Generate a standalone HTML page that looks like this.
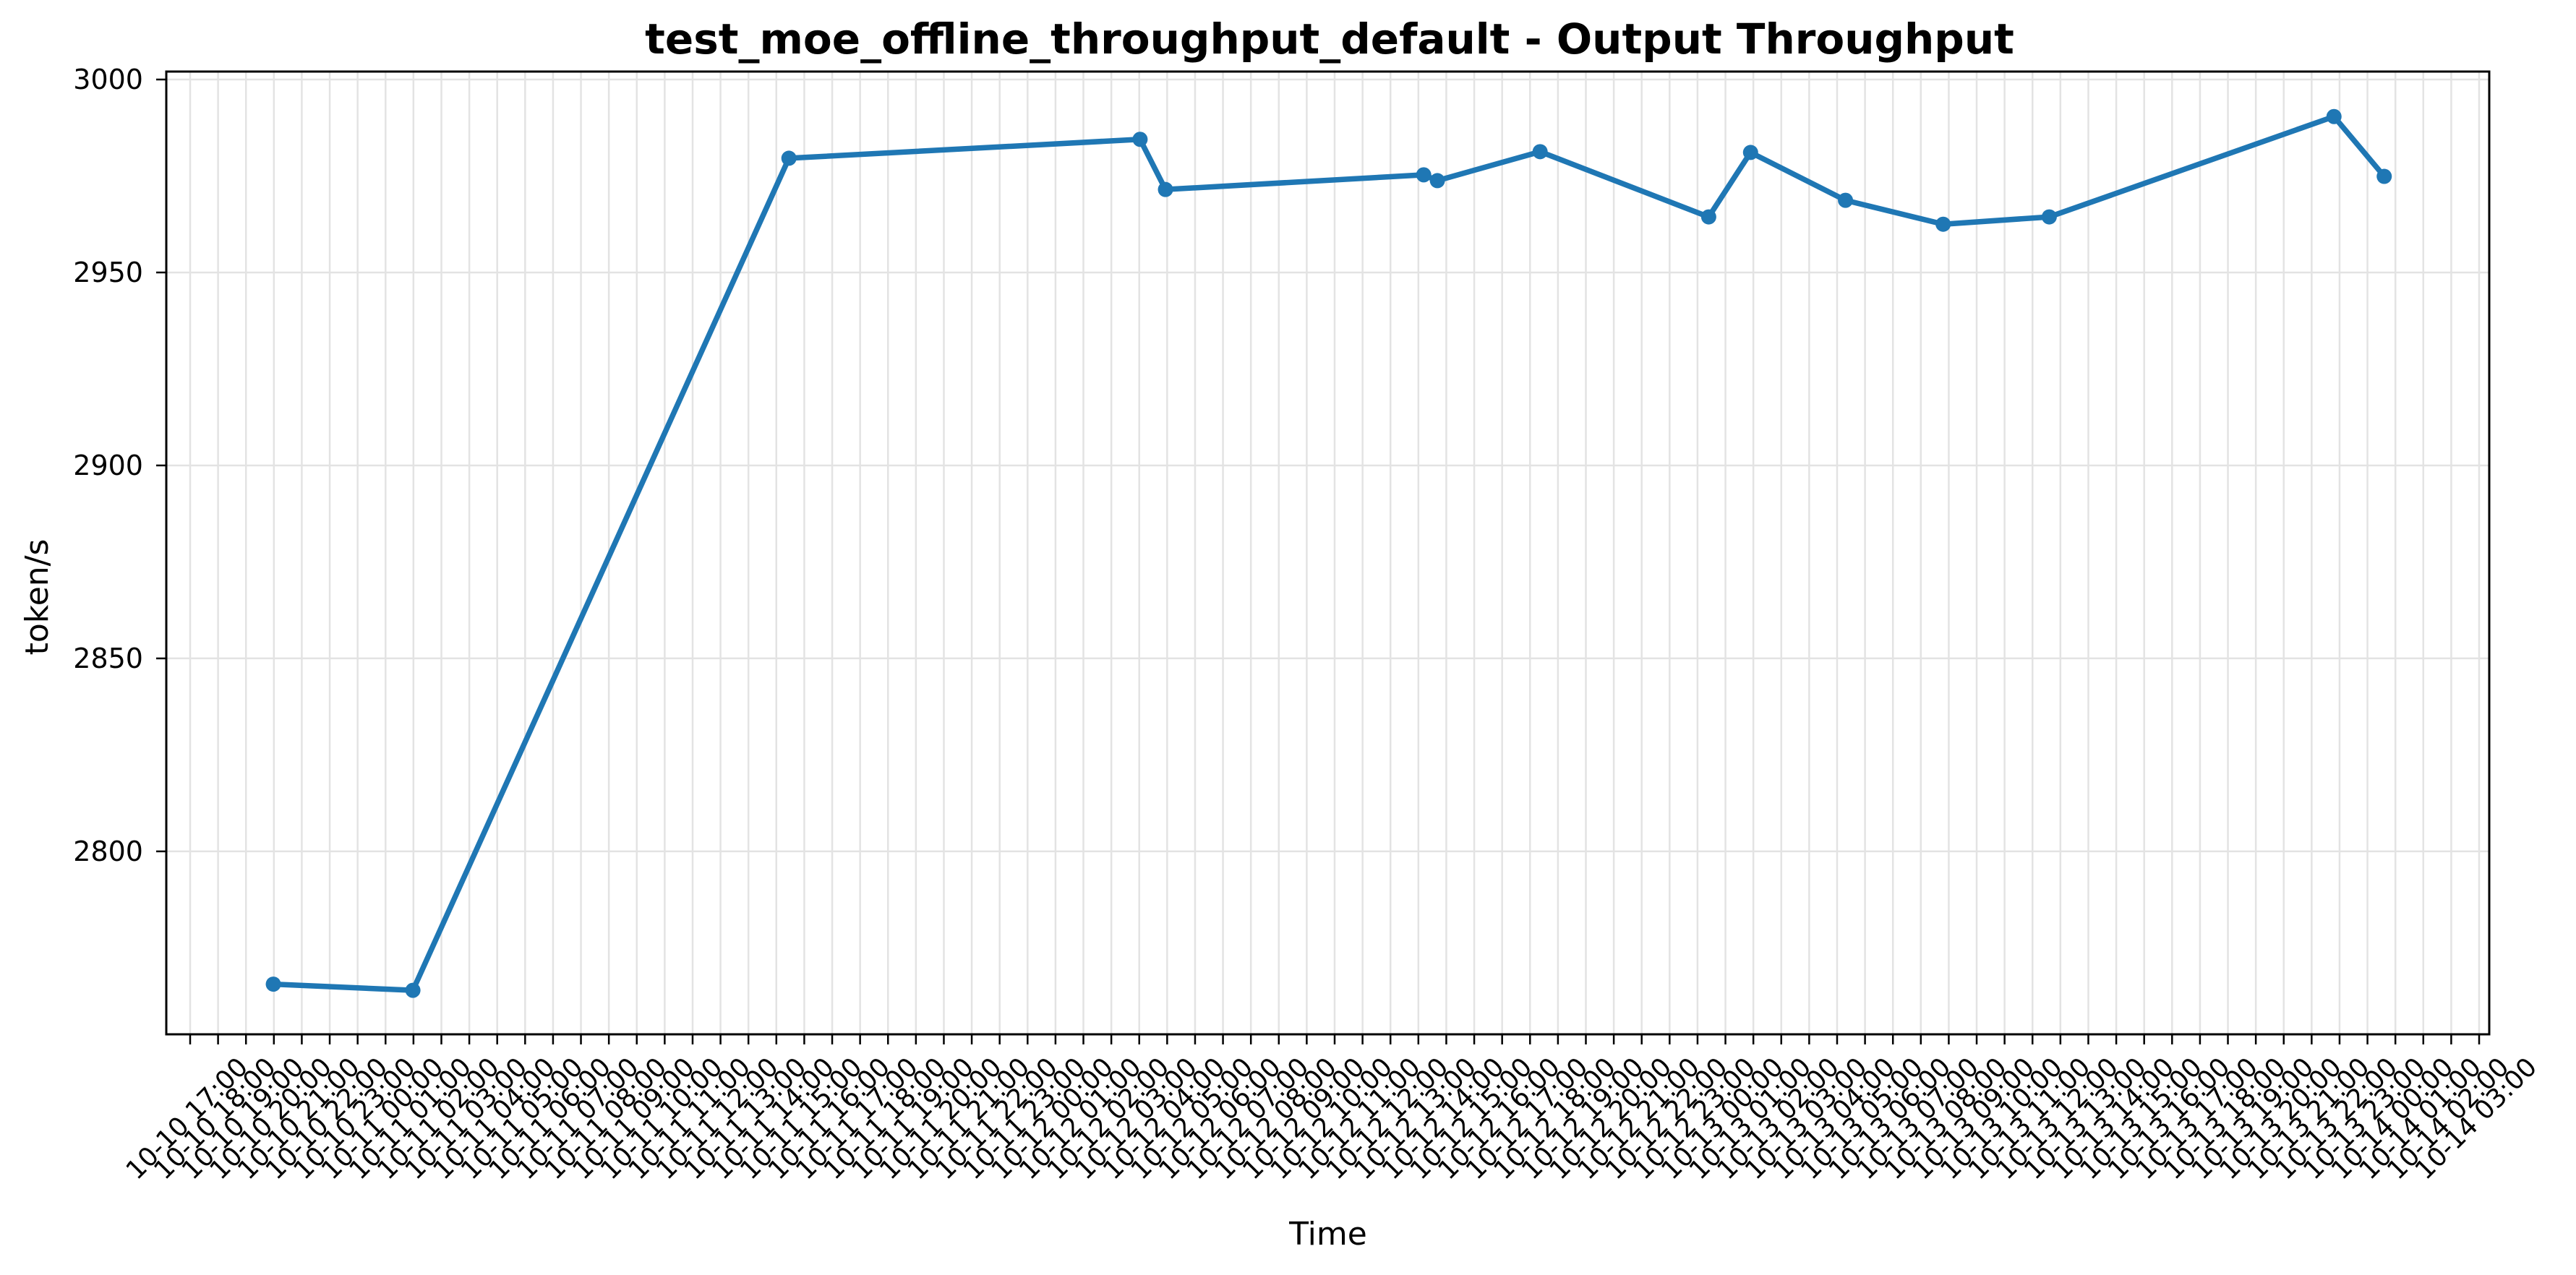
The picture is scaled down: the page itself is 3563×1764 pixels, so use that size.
<!DOCTYPE html>
<html><head><meta charset="utf-8">
<style>
html,body{margin:0;padding:0;background:#fff;}
svg{display:block;font-family:"DejaVu Sans","Liberation Sans",sans-serif;}
</style></head>
<body>
<svg id="chart" width="3563" height="1764" viewBox="0 0 3563 1764" xmlns="http://www.w3.org/2000/svg">
<rect width="3563" height="1764" fill="#fff"/>
<text x="1839" y="74" text-anchor="middle" font-size="58" font-weight="bold">test_moe_offline_throughput_default - Output Throughput</text>
<text x="1837" y="1722" text-anchor="middle" font-size="44">Time</text>
<text transform="translate(66,826) rotate(-90)" text-anchor="middle" font-size="44">token/s</text>
<g id="grid"></g>
<g id="ticks"></g>
<g id="series"></g>
<rect x="230" y="99" width="3213" height="1332" fill="none" stroke="#000" stroke-width="3"/>
</svg>
<script>
// hours since 10-10 17:00
const pointHours = [2.98, 7.98, 21.45, 34.03, 34.94, 44.19, 44.68, 48.36, 54.4, 55.9, 59.3, 62.8, 66.6, 76.8, 78.6];
const pointValues = [2765.6, 2764.0, 2979.6, 2984.5, 2971.5, 2975.3, 2973.8, 2981.3, 2964.4, 2981.1, 2968.7, 2962.5, 2964.4, 2990.4, 2974.9];
const yTicks = [2800, 2850, 2900, 2950, 3000];
const tickCount = 83;
const startDay = 10, startHour = 17;

const NS = 'http://www.w3.org/2000/svg';
const X0 = 263, HOUR = 38.61;
const yMin = 2752.6, yMax = 3002.06, PT = 99, PB = 1431;
const xs = h => X0 + h * HOUR;
const ys = v => PB - (v - yMin) / (yMax - yMin) * (PB - PT);
function mk(tag, attrs, parent){const e=document.createElementNS(NS,tag);for(const k in attrs)e.setAttribute(k,attrs[k]);parent.appendChild(e);return e;}
const grid=document.getElementById('grid'), ticks=document.getElementById('ticks'), series=document.getElementById('series');
const pad=n=>String(n).padStart(2,'0');
for(let i=0;i<tickCount;i++){
  const x=xs(i);
  const g=mk('line',{x1:x,x2:x,y1:PT,y2:PB,stroke:'#e3e3e3','stroke-width':2.5},grid);
  
  
  const t=mk('line',{x1:x,x2:x,y1:PB,y2:PB+14,stroke:'#000','stroke-width':2.5},ticks);
  
  
  const tot=startHour+i, d=startDay+Math.floor(tot/24), h=tot%24;
  const cx=x-4, cy=1548;
  const lab=mk('text',{x:cx,y:cy,'text-anchor':'middle','dominant-baseline':'central','font-size':36,transform:`rotate(-45 ${cx} ${cy})`},ticks);
  lab.textContent=`10-${pad(d)} ${pad(h)}:00`;
  
  
}
yTicks.forEach(v=>{
  const y=ys(v);
  const g=mk('line',{x1:230,x2:3443,y1:y,y2:y,stroke:'#e3e3e3','stroke-width':2.5},grid);
  
  
  const t=mk('line',{x1:216,x2:230,y1:y,y2:y,stroke:'#000','stroke-width':2.5},ticks);
  
  
  const lab=mk('text',{x:198,y:y,'text-anchor':'end','dominant-baseline':'central','font-size':38},ticks);
  lab.textContent=String(v);
  
  
});
const pts=pointHours.map((h,i)=>xs(h)+','+ys(pointValues[i])).join(' ');
const line=mk('polyline',{points:pts,fill:'none',stroke:'#1f77b4','stroke-width':7.5,'stroke-linejoin':'round','stroke-linecap':'round'},series);


pointHours.forEach((h,i)=>{
  const c=mk('circle',{cx:xs(h),cy:ys(pointValues[i]),r:10.5,fill:'#1f77b4'},series);
  
  
});
</script>
</body></html>
